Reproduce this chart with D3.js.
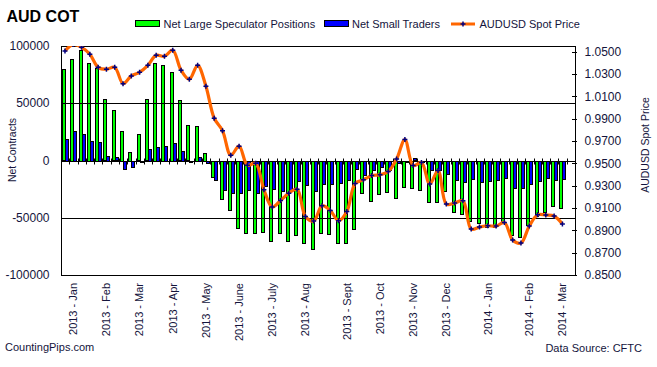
<!DOCTYPE html>
<html>
<head>
<meta charset="utf-8">
<script src="https://cdn.jsdelivr.net/npm/d3@7"></script>
<style>
    body { margin: 0; background: #fff; }
    #chart text { font-family: "Liberation Sans", Arial, sans-serif; fill: #14143c; }
</style>
</head>
<body>
<div id="chart"></div>
<script>

// weekly values, Jan 2013 - Mar 2014
const largeSpec = [79.7, 88.7, 96.6, 85.2, 81.1, 53.5, 44.0, 25.9, 7.6, 23.0,
    53.5, 85.2, 83.5, 77.4, 52.7, 31.0, 30.2, 6.6, -14.0, -33.1,
    -42.4, -58.4, -63.3, -63.3, -61.9, -70.3, -63.3, -70.3, -64.8, -72.0,
    -76.5, -62.5, -63.6, -71.5, -71.5, -59.8, -27.9, -34.9, -28.5, -27.0,
    -31.9, -22.7, -23.5, -25.0, -35.8, -35.8, -26.0, -44.5, -45.9, -52.6,
    -54.1, -57.6, -57.6, -53.2, -64.2, -66.3, -56.1, -48.0, -44.5, -39.2, -41.0].map(d => d * 1000)

const smallTraders = [18.9, 25.9, 23.3, 17.2, 16.3, 4.1, 3.0, -6.6, -5.2, -0.8,
    10.2, 12.0, 12.8, 15.4, 8.5, -1.0, 3.2, -1.5, -16.2, -25.0,
    -27.9, -27.9, -25.0, -27.9, -22.0, -24.1, -26.1, -25.0, -17.4, -21.2,
    -26.1, -19.7, -19.7, -18.9, -16.8, -6.7, -11.9, -7.5, -5.2, -7.5,
    -1.4, -1.0, 2.0, -1.0, -7.5, -8.1, -11.0, -16.3, -18.3, -15.4,
    -18.3, -17.4, -16.3, -14.8, -23.5, -23.5, -19.7, -17.4, -14.8, -16.3, -15.4].map(d => d * 1000)

const spotPrice = [1.0506, 1.0565, 1.0539, 1.0477, 1.0360, 1.0343, 1.0360, 1.0214, 1.0283, 1.0316,
    1.0378, 1.0468, 1.0459, 1.0513, 1.0334, 1.0253, 1.0378, 1.0191, 0.9904, 0.9793,
    0.9572, 0.9654, 0.9484, 0.9500, 0.9263, 0.9108, 0.9167, 0.9233, 0.9269, 0.9024,
    0.8983, 0.9120, 0.9078, 0.8986, 0.9069, 0.9319, 0.9352, 0.9391, 0.9397, 0.9427,
    0.9538, 0.9713, 0.9480, 0.9507, 0.9314, 0.9436, 0.9135, 0.9144, 0.9165, 0.8911,
    0.8929, 0.8941, 0.8938, 0.8970, 0.8813, 0.8786, 0.8938, 0.9039, 0.9037, 0.9028, 0.8956]

const monthLabels = ["2013 - Jan", "2013 - Feb", "2013 - Mar", "2013 - Apr", "2013 - May",
    "2013 - June", "2013 - July", "2013 - Aug", "2013 - Sept", "2013 - Oct", "2013 - Nov",
    "2013 - Dec", "2014 - Jan", "2014 - Feb", "2014 - Mar"]
const monthWeeks = [1, 5, 9, 13, 17, 21, 25, 29, 34, 38, 42, 46, 51, 56, 60]

const contractTicks = [-100000, -50000, 0, 50000, 100000]
const priceTicks = [0.85, 0.87, 0.89, 0.91, 0.93, 0.95, 0.97, 0.99, 1.01, 1.03, 1.05]

class CotChart {
    constructor(parentElement) {
        this.parentElement = parentElement
        this.initVis()
    }
    initVis() {
        let vis = this

        vis.width = 657
        vis.height = 367
        vis.margin = {top: 46, right: 82, bottom: 92, left: 61}
        vis.x0 = vis.margin.left
        vis.x1 = vis.width - vis.margin.right
        vis.y0 = vis.margin.top
        vis.y1 = vis.height - vis.margin.bottom

        vis.svg = d3.select("#" + vis.parentElement).append("svg")
            .attr("width", vis.width)
            .attr("height", vis.height)

        // one spare slot at the right end, as in the source
        vis.x = d3.scaleBand()
            .domain(d3.range(largeSpec.length + 1))
            .range([vis.x0, vis.x1])
        vis.sub = d3.scaleBand()
            .domain(["spec", "small"])
            .range([1, 1 + vis.x.step() * 0.72])
        vis.yLeft = d3.scaleLinear()
            .domain([-100000, 100000])
            .range([vis.y1, vis.y0])
        vis.yRight = d3.scaleLinear()
            .domain([0.85, 1.0551])
            .range([vis.y1, vis.y0])

        vis.pointX = i => vis.x(i) + 1 + vis.sub.bandwidth()

        vis.updateVis()
    }
    updateVis() {
        let vis = this
        let zero = vis.yLeft(0)
        let bw = Math.round(vis.sub.bandwidth())

        // bars, snapped to whole pixels like the source
        let bars = vis.svg.append("g").attr("shape-rendering", "crispEdges")
        let series = [
            {key: "spec", values: largeSpec, color: "#00ff00"},
            {key: "small", values: smallTraders, color: "#0000ff"}
        ]
        series.forEach(s => {
            bars.selectAll(".bar-" + s.key)
                .data(s.values)
                .enter().append("rect")
                .attr("class", "bar-" + s.key)
                .attr("x", (d, i) => Math.round(vis.x(i) + 1) + (s.key === "spec" ? 0 : bw) + 0.5)
                .attr("y", d => Math.round(vis.yLeft(Math.max(0, d))) + 0.5)
                .attr("width", bw)
                .attr("height", d => Math.max(1, Math.round(Math.abs(vis.yLeft(d) - zero))))
                .attr("fill", s.color)
                .attr("stroke", "#000")
                .attr("stroke-width", 1)
        })

        // grid lines at +-50000
        vis.svg.selectAll(".grid")
            .data([-50000, 50000])
            .enter().append("line")
            .attr("class", "grid")
            .attr("x1", vis.x0).attr("x2", vis.x1)
            .attr("y1", d => Math.round(vis.yLeft(d)) + 0.5)
            .attr("y2", d => Math.round(vis.yLeft(d)) + 0.5)
            .attr("stroke", "#000")

        // zero line with week ticks
        let zy = Math.round(zero) + 0.5
        vis.svg.append("line")
            .attr("x1", vis.x0).attr("x2", vis.x1)
            .attr("y1", zy).attr("y2", zy)
            .attr("stroke", "#000")
        vis.svg.selectAll(".wtick")
            .data(d3.range(1, largeSpec.length + 1))
            .enter().append("line")
            .attr("class", "wtick")
            .attr("x1", d => Math.round(vis.x(d)) + 0.5)
            .attr("x2", d => Math.round(vis.x(d)) + 0.5)
            .attr("y1", zy - 3).attr("y2", zy + 3)
            .attr("stroke", "#000")

        // frame
        vis.svg.append("rect")
            .attr("x", vis.x0 + 0.5).attr("y", vis.y0 + 0.5)
            .attr("width", vis.x1 - vis.x0).attr("height", vis.y1 - vis.y0)
            .attr("fill", "none")
            .attr("stroke", "#000")

        // left axis labels
        vis.svg.selectAll(".ylab")
            .data(contractTicks)
            .enter().append("text")
            .attr("class", "ylab")
            .attr("x", 49.5)
            .attr("y", d => vis.yLeft(d))
            .attr("dy", "0.35em")
            .attr("text-anchor", "end")
            .style("font-size", "12px")
            .text(d => d)

        // right axis
        vis.svg.selectAll(".rtick")
            .data(priceTicks)
            .enter().append("line")
            .attr("class", "rtick")
            .attr("x1", vis.x1 - 3).attr("x2", vis.x1 + 2)
            .attr("y1", d => Math.round(vis.yRight(d)) + 0.5)
            .attr("y2", d => Math.round(vis.yRight(d)) + 0.5)
            .attr("stroke", "#000")
        vis.svg.selectAll(".rlab")
            .data(priceTicks)
            .enter().append("text")
            .attr("class", "rlab")
            .attr("x", 584.5)
            .attr("y", d => vis.yRight(d))
            .attr("dy", "0.35em")
            .style("font-size", "12px")
            .text(d => d3.format(".4f")(d))

        // axis titles
        vis.svg.append("text")
            .attr("transform", "translate(15.5,150) rotate(-90)")
            .attr("text-anchor", "middle")
            .style("font-size", "10.5px")
            .text("Net Contracts")
        vis.svg.append("text")
            .attr("transform", "translate(649,145) rotate(-90)")
            .attr("text-anchor", "middle")
            .style("font-size", "10.5px")
            .text("AUDUSD Spot Price")

        // month labels
        vis.svg.selectAll(".xlab")
            .data(monthWeeks)
            .enter().append("text")
            .attr("class", "xlab")
            .attr("transform", d => `translate(${vis.pointX(d)},283) rotate(-90)`)
            .attr("dy", "0.35em")
            .attr("text-anchor", "end")
            .style("font-size", "11px")
            .text((d, i) => monthLabels[i])

        // price line
        vis.svg.append("clipPath").attr("id", "plot-clip")
            .append("rect")
            .attr("x", vis.x0).attr("y", vis.y0)
            .attr("width", vis.x1 - vis.x0).attr("height", vis.y1 - vis.y0)

        vis.line = d3.line()
            .x((d, i) => vis.pointX(i))
            .y(d => vis.yRight(d))
            .curve(d3.curveCatmullRom)

        let plot = vis.svg.append("g").attr("clip-path", "url(#plot-clip)")
        plot.append("path")
            .datum(spotPrice)
            .attr("d", vis.line)
            .attr("fill", "none")
            .attr("stroke", "#ff6600")
            .attr("stroke-width", 3.2)

        let cross = "M-2.5,0H2.5M0,-2.5V2.5"
        plot.selectAll(".marker")
            .data(spotPrice)
            .enter().append("path")
            .attr("class", "marker")
            .attr("transform", (d, i) => `translate(${vis.pointX(i)},${vis.yRight(d)})`)
            .attr("d", cross)
            .attr("stroke", "#000080")
            .attr("stroke-width", 1.5)

        // title and legend
        vis.svg.append("text")
            .attr("x", 6.5).attr("y", 21.7)
            .style("font-size", "16px")
            .style("font-weight", "bold")
            .style("fill", "#000")
            .text("AUD COT")

        let legend = [
            {label: "Net Large Speculator Positions", x: 135, type: "box", color: "#00ff00"},
            {label: "Net Small Traders", x: 323.5, type: "box", color: "#0000ff"},
            {label: "AUDUSD Spot Price", x: 451, type: "line", color: "#ff6600"}
        ]
        legend.forEach(l => {
            if (l.type === "box") {
                vis.svg.append("rect")
                    .attr("x", Math.round(l.x) + 0.5).attr("y", 20.5)
                    .attr("width", 24).attr("height", 6)
                    .attr("fill", l.color)
                    .attr("stroke", "#000")
                    .attr("shape-rendering", "crispEdges")
            } else {
                vis.svg.append("line")
                    .attr("x1", l.x).attr("x2", l.x + 24)
                    .attr("y1", 24).attr("y2", 24)
                    .attr("stroke", l.color)
                    .attr("stroke-width", 3)
                vis.svg.append("path")
                    .attr("transform", `translate(${l.x + 12},24)`)
                    .attr("d", cross)
                    .attr("stroke", "#000080")
                    .attr("stroke-width", 1.5)
            }
            vis.svg.append("text")
                .attr("x", l.x + 28.5).attr("y", 28.3)
                .style("font-size", "11px")
                .text(l.label)
        })

        // footer
        vis.svg.append("text")
            .attr("x", 5).attr("y", 351)
            .style("font-size", "11px")
            .text("CountingPips.com")
        vis.svg.append("text")
            .attr("x", 642).attr("y", 351.5)
            .attr("text-anchor", "end")
            .style("font-size", "11px")
            .text("Data Source: CFTC")
    }
}

new CotChart("chart")
</script>
</body>
</html>
